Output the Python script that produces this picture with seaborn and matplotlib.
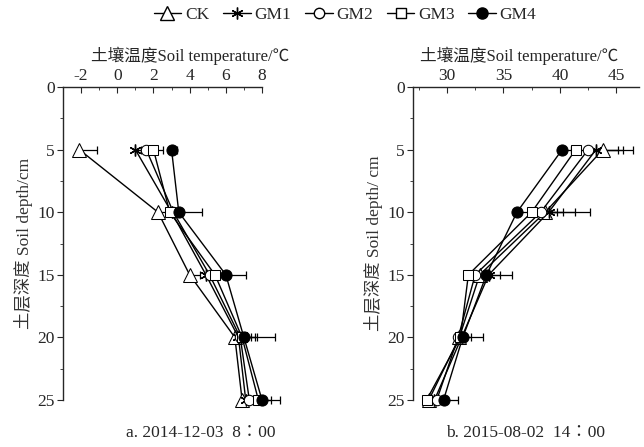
import numpy as np
import pandas as pd
import matplotlib
matplotlib.use("Agg")
import matplotlib.pyplot as plt
from matplotlib.ticker import MultipleLocator
from matplotlib.lines import Line2D
import seaborn as sns

sns.set_style("ticks")
plt.rcParams["font.family"] = ["Liberation Serif", "Noto Sans CJK SC"]
plt.rcParams["font.size"] = 12
plt.rcParams["axes.unicode_minus"] = False

depths = [5, 10, 15, 20, 25]
treatments = ["CK", "GM1", "GM2", "GM3", "GM4"]

# 2014-12-03 8:00 soil temperature (°C) and standard deviation
winter_CK = [-2.1, 2.25, 4.0, 6.5, 6.9]
winter_GM1 = [1.0, 3.0, 4.9, 6.7, 7.1]
winter_GM2 = [1.6, 3.1, 5.1, 6.8, 7.3]
winter_GM3 = [2.0, 2.9, 5.4, 6.9, 7.8]
winter_GM4 = [3.0, 3.4, 6.0, 7.0, 8.0]
winter_sd_CK = [1.0, 0.5, 0.6, 0.4, 0.4]
winter_sd_GM1 = [0.3, 0.4, 0.5, 0.9, 0.5]
winter_sd_GM2 = [0.3, 0.5, 0.6, 0.6, 0.6]
winter_sd_GM3 = [0.5, 0.6, 0.8, 0.8, 0.7]
winter_sd_GM4 = [0.3, 1.3, 1.1, 1.7, 1.0]

# 2015-08-02 14:00 soil temperature (°C) and standard deviation
summer_CK = [43.8, 38.7, 32.9, 31.1, 28.4]
summer_GM1 = [43.2, 39.0, 33.7, 31.3, 28.9]
summer_GM2 = [42.5, 38.3, 32.5, 31.0, 29.1]
summer_GM3 = [41.4, 37.5, 31.9, 31.2, 28.2]
summer_GM4 = [40.2, 36.2, 33.5, 31.4, 29.7]
summer_sd_CK = [1.8, 2.6, 0.6, 0.5, 0.4]
summer_sd_GM1 = [3.3, 3.7, 2.1, 0.8, 0.6]
summer_sd_GM2 = [2.6, 2.0, 0.7, 0.6, 0.5]
summer_sd_GM3 = [1.0, 2.2, 0.6, 0.5, 0.4]
summer_sd_GM4 = [0.8, 1.0, 1.2, 1.8, 1.3]

winter = {"CK": (winter_CK, winter_sd_CK), "GM1": (winter_GM1, winter_sd_GM1),
          "GM2": (winter_GM2, winter_sd_GM2), "GM3": (winter_GM3, winter_sd_GM3),
          "GM4": (winter_GM4, winter_sd_GM4)}
summer = {"CK": (summer_CK, summer_sd_CK), "GM1": (summer_GM1, summer_sd_GM1),
          "GM2": (summer_GM2, summer_sd_GM2), "GM3": (summer_GM3, summer_sd_GM3),
          "GM4": (summer_GM4, summer_sd_GM4)}

styles = {
    "CK": dict(marker="^", mfc="white", ms=9.5),
    "GM1": dict(marker=(6, 2, 0), mfc="black", ms=8.5, mew=1.0),
    "GM2": dict(marker="o", mfc="white", ms=7.5),
    "GM3": dict(marker="s", mfc="white", ms=7),
    "GM4": dict(marker="o", mfc="black", ms=8),
}


def to_frame(block):
    rows = []
    for name in treatments:
        vals, sds = block[name]
        for d, v, s in zip(depths, vals, sds):
            rows.append({"treatment": name, "depth": d, "temp": v, "sd": s})
    return pd.DataFrame(rows)


fig = plt.figure(figsize=(6.44, 4.47), dpi=100)
ax_a = fig.add_axes([63 / 644, 1 - 400 / 447, 199 / 644, 313 / 447])
ax_b = fig.add_axes([413 / 644, 1 - 400 / 447, 226 / 644, 313 / 447])

panels = [
    (ax_a, to_frame(winter), (-3, 8), 2, 1, "a. 2014-12-03  8\u223600",
     "土层深度 Soil depth/cm", 0.69, 0.64),
    (ax_b, to_frame(summer), (27, 47), 5, 2.5, "b. 2015-08-02  14\u223600",
     "土层深度 Soil depth/ cm", 0.5, 0.47),
]

for ax, df, xlim, major, minor, caption, ylabel, cap_x, title_x in panels:
    for name in treatments:
        sub = df[df["treatment"] == name]
        ax.errorbar(sub["temp"], sub["depth"],
                    xerr=[np.zeros(len(sub)), sub["sd"]],
                    fmt="none", ecolor="black", elinewidth=0.9,
                    capsize=3, capthick=0.9, clip_on=False, zorder=2)
    for name in treatments:
        sub = df[df["treatment"] == name]
        sns.lineplot(data=sub, x="temp", y="depth", sort=False, estimator=None,
                     ax=ax, color="black", lw=1.0, mec="black",
                     clip_on=False, zorder=3, **styles[name])
    ax.set_xlim(*xlim)
    ax.set_ylim(25, 0)
    ax.xaxis.tick_top()
    ax.xaxis.set_label_position("top")
    ax.xaxis.set_major_locator(MultipleLocator(major))
    ax.xaxis.set_minor_locator(MultipleLocator(minor))
    ax.yaxis.set_major_locator(MultipleLocator(5))
    ax.yaxis.set_minor_locator(MultipleLocator(2.5))
    ax.tick_params(axis="x", which="both", direction="in", top=True, bottom=False,
                   pad=2, labelsize=12.5)
    ax.tick_params(axis="x", which="major", length=4)
    ax.tick_params(axis="x", which="minor", length=2.5)
    ax.tick_params(axis="y", which="both", direction="out", labelsize=12.5, pad=2)
    ax.tick_params(axis="y", which="major", length=4)
    ax.tick_params(axis="y", which="minor", length=2.5)
    for side in ("right", "bottom"):
        ax.spines[side].set_visible(False)
    for side in ("left", "top"):
        ax.spines[side].set_linewidth(1.0)
    ax.set_xlabel("土壤温度Soil temperature/\u2103", fontsize=12, labelpad=5, x=title_x)
    ax.set_ylabel(ylabel, fontsize=12.5, labelpad=3, color="#333333")
    ax.text(cap_x, -0.105, caption, transform=ax.transAxes,
            ha="center", va="center", fontsize=12.5)

handles = []
for name in treatments:
    handles.append(Line2D([], [], color="black", lw=1.0, mec="black", **styles[name]))
fig.legend(handles, treatments, loc="center", bbox_to_anchor=(345 / 644, 1 - 15 / 447),
           ncol=5, frameon=False, handlelength=1.6, handletextpad=0.2,
           columnspacing=0.8, fontsize=12.5, borderaxespad=0)

fig.savefig("out.png", dpi=100)
